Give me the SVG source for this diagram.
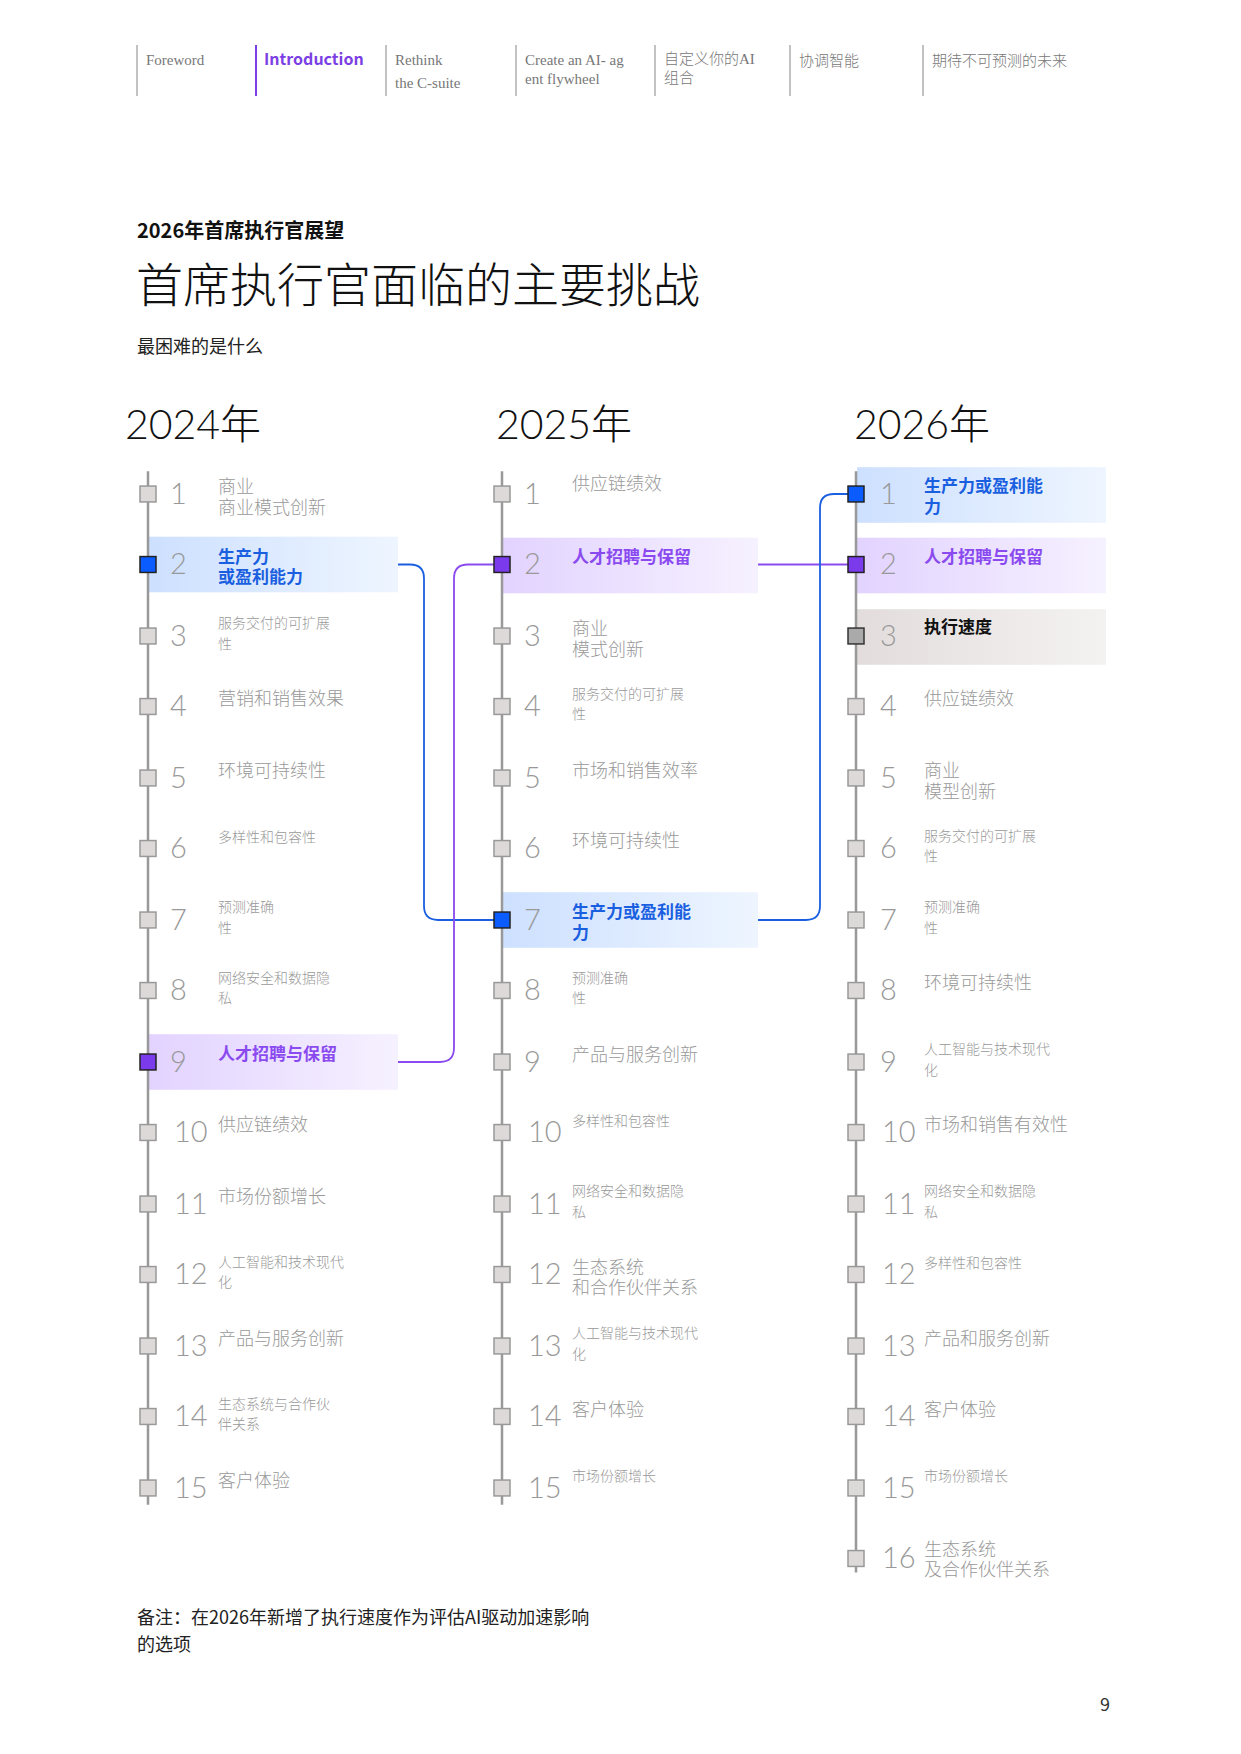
<svg xmlns="http://www.w3.org/2000/svg" width="1241" height="1754" viewBox="0 0 1241 1754">
<defs>
<linearGradient id="gb" x1="0" x2="1"><stop offset="0" stop-color="#cde0ff"/><stop offset="1" stop-color="#eef5ff"/></linearGradient>
<linearGradient id="gp" x1="0" x2="1"><stop offset="0" stop-color="#e2d3ff"/><stop offset="1" stop-color="#f6f1ff"/></linearGradient>
<linearGradient id="gg" x1="0" x2="1"><stop offset="0" stop-color="#e2dddc"/><stop offset="1" stop-color="#f4f2f1"/></linearGradient>
<style>
text{font-family:"Noto Sans CJK SC","Noto Sans",sans-serif}
.nav{font-family:"Liberation Serif","Noto Sans CJK SC",serif;font-size:15px;fill:#777}
.navl{stroke:#999;stroke-width:1.2}
.axis{stroke:#999;stroke-width:2.5}
.sq{fill:#dcd9d8;stroke:#999;stroke-width:1.5}
.num{font-family:"Lato","Noto Sans",sans-serif;font-weight:300;font-size:29px;fill:#999}
.lb{font-size:18px;fill:#999;font-weight:300}
.sm{font-size:14px;fill:#999;font-weight:300}
.hb{font-size:17px;font-weight:700;fill:#1a5fe0}
.hp{font-size:17px;font-weight:700;fill:#8a4af0}
.hk{font-size:17px;font-weight:700;fill:#111}
.yr{font-family:"Lato","Noto Sans CJK SC",sans-serif;font-weight:300;font-size:41px;fill:#111}
.cb{fill:none;stroke:#1a5fe0;stroke-width:1.8}
.cp{fill:none;stroke:#8a4af0;stroke-width:1.8}
</style>
</defs>
<g id="nav">
<line class="navl" x1="137" y1="45" x2="137" y2="96"/>
<line x1="256" y1="45" x2="256" y2="96" stroke="#7b3fe4" stroke-width="2"/>
<line class="navl" x1="386" y1="45" x2="386" y2="96"/>
<line class="navl" x1="516" y1="45" x2="516" y2="96"/>
<line class="navl" x1="655" y1="45" x2="655" y2="96"/>
<line class="navl" x1="790" y1="45" x2="790" y2="96"/>
<line class="navl" x1="923" y1="45" x2="923" y2="96"/>
<text class="nav" x="146" y="65">Foreword</text>
<text x="264" y="65" font-family="Lato,sans-serif" font-weight="700" font-size="16" fill="#7b3fe4">Introduction</text>
<text class="nav" x="395" y="65">Rethink</text>
<text class="nav" x="395" y="88" font-size="18">the C-suite</text>
<text class="nav" x="525" y="65" font-size="14">Create an AI- ag</text>
<text class="nav" x="525" y="84" font-size="14">ent flywheel</text>
<text class="nav" x="664" y="64" font-size="13" font-weight="300">自定义你的AI</text>
<text class="nav" x="664" y="83" font-size="13" font-weight="300">组合</text>
<text class="nav" x="799" y="66" font-size="16" font-weight="300">协调智能</text>
<text class="nav" x="932" y="66" font-size="16" font-weight="300">期待不可预测的未来</text>
</g>
<g id="header">
<text x="137" y="238" font-size="20" font-weight="700" fill="#111">2026年首席执行官展望</text>
<text x="136" y="302" font-size="47" font-weight="300" fill="#111">首席执行官面临的主要挑战</text>
<text x="137" y="353" font-size="18" fill="#222">最困难的是什么</text>
<text class="yr" x="125" y="439">2024年</text>
<text class="yr" x="496" y="439">2025年</text>
<text class="yr" x="854" y="439">2026年</text>
</g>
<g transform="translate(0,494) scale(1,0.993) translate(0,-494)">
<g id="highlights">
<rect x="149" y="537" width="249" height="56" fill="url(#gb)"/>
<rect x="149" y="1038" width="249" height="56" fill="url(#gp)"/>
<rect x="503" y="538" width="255" height="56" fill="url(#gp)"/>
<rect x="503" y="895" width="255" height="56" fill="url(#gb)"/>
<rect x="857" y="467" width="249" height="56" fill="url(#gb)"/>
<rect x="857" y="538" width="249" height="56" fill="url(#gp)"/>
<rect x="857" y="610" width="249" height="56" fill="url(#gg)"/>
</g>
<g id="connectors">
<path class="cb" d="M398 565 H410 Q424 565 424 579 V909 Q424 923 438 923 H502"/>
<path class="cp" d="M398 1066 H440 Q454 1066 454 1052 V579 Q454 565 468 565 H502"/>
<path class="cp" d="M758 565 H856"/>
<path class="cb" d="M758 923 H806 Q820 923 820 909 V508 Q820 494 834 494 H856"/>
</g>
<g id="axes">
<line class="axis" x1="148" y1="471" x2="148" y2="1512"/>
<line class="axis" x1="502" y1="471" x2="502" y2="1512"/>
<line class="axis" x1="856" y1="471" x2="856" y2="1580"/>
</g>
<g id="col2024">
<rect class="sq" x="140" y="486" width="16" height="16"/><text class="num" x="170" y="504">1</text><text class="lb" x="218" y="493">商业</text><text class="lb" x="218" y="514">商业模式创新</text>
<rect x="140" y="557" width="16" height="16" fill="#0b5cff" stroke="#222" stroke-width="1.5"/><text class="num" x="170" y="575" fill="#1a5fe0">2</text><text class="hb" x="218" y="563">生产力</text><text class="hb" x="218" y="584">或盈利能力</text>
<rect class="sq" x="140" y="629" width="16" height="16"/><text class="num" x="170" y="647">3</text><text class="sm" x="218" y="629">服务交付的可扩展</text><text class="sm" x="218" y="650">性</text>
<rect class="sq" x="140" y="700" width="16" height="16"/><text class="num" x="170" y="718">4</text><text class="lb" x="218" y="707">营销和销售效果</text>
<rect class="sq" x="140" y="772" width="16" height="16"/><text class="num" x="170" y="790">5</text><text class="lb" x="218" y="779">环境可持续性</text>
<rect class="sq" x="140" y="843" width="16" height="16"/><text class="num" x="170" y="861">6</text><text class="sm" x="218" y="844">多样性和包容性</text>
<rect class="sq" x="140" y="915" width="16" height="16"/><text class="num" x="170" y="933">7</text><text class="sm" x="218" y="915">预测准确</text><text class="sm" x="218" y="936">性</text>
<rect class="sq" x="140" y="986" width="16" height="16"/><text class="num" x="170" y="1004">8</text><text class="sm" x="218" y="986">网络安全和数据隐</text><text class="sm" x="218" y="1007">私</text>
<rect x="140" y="1058" width="16" height="16" fill="#7c3aed" stroke="#222" stroke-width="1.5"/><text class="num" x="170" y="1076" fill="#8a4af0">9</text><text class="hp" x="218" y="1064">人才招聘与保留</text>
<rect class="sq" x="140" y="1129" width="16" height="16"/><text class="num" x="174" y="1147">10</text><text class="lb" x="218" y="1136">供应链绩效</text>
<rect class="sq" x="140" y="1201" width="16" height="16"/><text class="num" x="174" y="1219">11</text><text class="lb" x="218" y="1208">市场份额增长</text>
<rect class="sq" x="140" y="1272" width="16" height="16"/><text class="num" x="174" y="1290">12</text><text class="sm" x="218" y="1272">人工智能和技术现代</text><text class="sm" x="218" y="1293">化</text>
<rect class="sq" x="140" y="1344" width="16" height="16"/><text class="num" x="174" y="1362">13</text><text class="lb" x="218" y="1351">产品与服务创新</text>
<rect class="sq" x="140" y="1415" width="16" height="16"/><text class="num" x="174" y="1433">14</text><text class="sm" x="218" y="1415">生态系统与合作伙</text><text class="sm" x="218" y="1436">伴关系</text>
<rect class="sq" x="140" y="1487" width="16" height="16"/><text class="num" x="174" y="1505">15</text><text class="lb" x="218" y="1494">客户体验</text>
</g>
<g id="col2025">
<rect class="sq" x="494" y="486" width="16" height="16"/><text class="num" x="524" y="504">1</text><text class="lb" x="572" y="490">供应链绩效</text>
<rect x="494" y="557" width="16" height="16" fill="#7c3aed" stroke="#222" stroke-width="1.5"/><text class="num" x="524" y="575" fill="#8a4af0">2</text><text class="hp" x="572" y="563">人才招聘与保留</text>
<rect class="sq" x="494" y="629" width="16" height="16"/><text class="num" x="524" y="647">3</text><text class="lb" x="572" y="636">商业</text><text class="lb" x="572" y="657">模式创新</text>
<rect class="sq" x="494" y="700" width="16" height="16"/><text class="num" x="524" y="718">4</text><text class="sm" x="572" y="700">服务交付的可扩展</text><text class="sm" x="572" y="721">性</text>
<rect class="sq" x="494" y="772" width="16" height="16"/><text class="num" x="524" y="790">5</text><text class="lb" x="572" y="779">市场和销售效率</text>
<rect class="sq" x="494" y="843" width="16" height="16"/><text class="num" x="524" y="861">6</text><text class="lb" x="572" y="850">环境可持续性</text>
<rect x="494" y="915" width="16" height="16" fill="#0b5cff" stroke="#222" stroke-width="1.5"/><text class="num" x="524" y="933" fill="#1a5fe0">7</text><text class="hb" x="572" y="921">生产力或盈利能</text><text class="hb" x="572" y="942">力</text>
<rect class="sq" x="494" y="986" width="16" height="16"/><text class="num" x="524" y="1004">8</text><text class="sm" x="572" y="986">预测准确</text><text class="sm" x="572" y="1007">性</text>
<rect class="sq" x="494" y="1058" width="16" height="16"/><text class="num" x="524" y="1076">9</text><text class="lb" x="572" y="1065">产品与服务创新</text>
<rect class="sq" x="494" y="1129" width="16" height="16"/><text class="num" x="528" y="1147">10</text><text class="sm" x="572" y="1130">多样性和包容性</text>
<rect class="sq" x="494" y="1201" width="16" height="16"/><text class="num" x="528" y="1219">11</text><text class="sm" x="572" y="1201">网络安全和数据隐</text><text class="sm" x="572" y="1222">私</text>
<rect class="sq" x="494" y="1272" width="16" height="16"/><text class="num" x="528" y="1290">12</text><text class="lb" x="572" y="1279">生态系统</text><text class="lb" x="572" y="1300">和合作伙伴关系</text>
<rect class="sq" x="494" y="1344" width="16" height="16"/><text class="num" x="528" y="1362">13</text><text class="sm" x="572" y="1344">人工智能与技术现代</text><text class="sm" x="572" y="1365">化</text>
<rect class="sq" x="494" y="1415" width="16" height="16"/><text class="num" x="528" y="1433">14</text><text class="lb" x="572" y="1422">客户体验</text>
<rect class="sq" x="494" y="1487" width="16" height="16"/><text class="num" x="528" y="1505">15</text><text class="sm" x="572" y="1488">市场份额增长</text>
</g>
<g id="col2026">
<rect x="848" y="486" width="16" height="16" fill="#0b5cff" stroke="#222" stroke-width="1.5"/><text class="num" x="880" y="504" fill="#1a5fe0">1</text><text class="hb" x="924" y="492">生产力或盈利能</text><text class="hb" x="924" y="513">力</text>
<rect x="848" y="557" width="16" height="16" fill="#7c3aed" stroke="#222" stroke-width="1.5"/><text class="num" x="880" y="575" fill="#8a4af0">2</text><text class="hp" x="924" y="563">人才招聘与保留</text>
<rect x="848" y="629" width="16" height="16" fill="#aaa" stroke="#333" stroke-width="1.5"/><text class="num" x="880" y="647" fill="#333">3</text><text class="hk" x="924" y="634">执行速度</text>
<rect class="sq" x="848" y="700" width="16" height="16"/><text class="num" x="880" y="718">4</text><text class="lb" x="924" y="707">供应链绩效</text>
<rect class="sq" x="848" y="772" width="16" height="16"/><text class="num" x="880" y="790">5</text><text class="lb" x="924" y="779">商业</text><text class="lb" x="924" y="800">模型创新</text>
<rect class="sq" x="848" y="843" width="16" height="16"/><text class="num" x="880" y="861">6</text><text class="sm" x="924" y="843">服务交付的可扩展</text><text class="sm" x="924" y="864">性</text>
<rect class="sq" x="848" y="915" width="16" height="16"/><text class="num" x="880" y="933">7</text><text class="sm" x="924" y="915">预测准确</text><text class="sm" x="924" y="936">性</text>
<rect class="sq" x="848" y="986" width="16" height="16"/><text class="num" x="880" y="1004">8</text><text class="lb" x="924" y="993">环境可持续性</text>
<rect class="sq" x="848" y="1058" width="16" height="16"/><text class="num" x="880" y="1076">9</text><text class="sm" x="924" y="1058">人工智能与技术现代</text><text class="sm" x="924" y="1079">化</text>
<rect class="sq" x="848" y="1129" width="16" height="16"/><text class="num" x="882" y="1147">10</text><text class="lb" x="924" y="1136">市场和销售有效性</text>
<rect class="sq" x="848" y="1201" width="16" height="16"/><text class="num" x="882" y="1219">11</text><text class="sm" x="924" y="1201">网络安全和数据隐</text><text class="sm" x="924" y="1222">私</text>
<rect class="sq" x="848" y="1272" width="16" height="16"/><text class="num" x="882" y="1290">12</text><text class="sm" x="924" y="1273">多样性和包容性</text>
<rect class="sq" x="848" y="1344" width="16" height="16"/><text class="num" x="882" y="1362">13</text><text class="lb" x="924" y="1351">产品和服务创新</text>
<rect class="sq" x="848" y="1415" width="16" height="16"/><text class="num" x="882" y="1433">14</text><text class="lb" x="924" y="1422">客户体验</text>
<rect class="sq" x="848" y="1487" width="16" height="16"/><text class="num" x="882" y="1505">15</text><text class="sm" x="924" y="1488">市场份额增长</text>
<rect class="sq" x="848" y="1558" width="16" height="16"/><text class="num" x="882" y="1576">16</text><text class="lb" x="924" y="1563">生态系统</text><text class="lb" x="924" y="1584">及合作伙伴关系</text>
</g>
</g>
<g id="footer">
<text x="137" y="1624" font-size="18" fill="#222">备注：在2026年新增了执行速度作为评估AI驱动加速影响</text>
<text x="137" y="1651" font-size="18" fill="#222">的选项</text>
<text x="1100" y="1711" font-family="Liberation Serif,serif" font-size="18" fill="#333">9</text>
</g>
</svg>
